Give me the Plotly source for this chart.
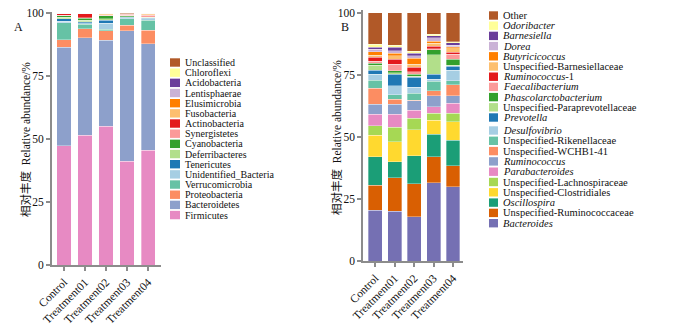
import plotly.graph_objects as go

W, H = 700, 334
groups = ["Control", "Treatment01", "Treatment02", "Treatment03", "Treatment04"]
yticks = [0, 25, 50, 75, 100]

# ---------------- Panel A (phylum), bottom -> top ----------------
phyla = ["Firmicutes", "Bacteroidetes", "Proteobacteria", "Verrucomicrobia",
         "Unidentified_Bacteria", "Tenericutes", "Deferribacteres", "Cyanobacteria",
         "Synergistetes", "Actinobacteria", "Fusobacteria", "Elusimicrobia",
         "Lentisphaerae", "Acidobacteria", "Chloroflexi", "Unclassified"]
phyla_colors = ["#e78ac3", "#8da0cb", "#fc8d62", "#66c2a5", "#a6cee3", "#1f78b4",
                "#b2df8a", "#33a02c", "#fb9a99", "#e31a1c", "#fdbf6f", "#ff7f00",
                "#cab2d6", "#6a3d9a", "#ffff99", "#b15928"]
firmicutes      = [47.3, 51.5, 55.2, 41.3, 45.6]
bacteroidetes   = [39.3, 38.7, 34.0, 51.7, 42.4]
proteobacteria  = [2.9, 3.6, 3.9, 2.2, 5.3]
verrucomicrobia = [6.7, 1.9, 0.5, 2.6, 3.9]
unidentified    = [0.7, 0.6, 2.4, 0.4, 0.7]
tenericutes     = [0.9, 0.3, 1.3, 0.2, 0.2]
deferribacteres = [0.7, 0.6, 0.6, 0.3, 0.3]
cyanobacteria   = [0.5, 0.9, 1.2, 0.3, 0.1]
synergistetes   = [0.2, 0.2, 0.2, 0.3, 0.8]
actinobacteria  = [0.6, 1.5, 0.2, 0.3, 0.1]
fusobacteria    = [0.05, 0.05, 0.3, 0.1, 0.5]
elusimicrobia   = [0.05, 0.05, 0.1, 0.05, 0.02]
lentisphaerae   = [0.03, 0.03, 0.03, 0.03, 0.02]
acidobacteria   = [0.02, 0.02, 0.02, 0.02, 0.02]
chloroflexi     = [0.02, 0.02, 0.02, 0.02, 0.02]
unclassified_a  = [0.03, 0.03, 0.03, 0.18, 0.02]
phyla_values = [firmicutes, bacteroidetes, proteobacteria, verrucomicrobia,
                unidentified, tenericutes, deferribacteres, cyanobacteria,
                synergistetes, actinobacteria, fusobacteria, elusimicrobia,
                lentisphaerae, acidobacteria, chloroflexi, unclassified_a]

# ---------------- Panel B (genus), bottom -> top ----------------
genera = ["<i>Bacteroides</i>", "Unspecified-Ruminococcaceae", "<i>Oscillospira</i>",
          "Unspecified-Clostridiales", "Unspecified-Lachnospiraceae", "<i>Parabacteroides</i>",
          "<i>Ruminococcus</i>", "Unspecified-WCHB1-41", "Unspecified-Rikenellaceae",
          "<i>Desulfovibrio</i>", "<i>Prevotella</i>", "Unspecified-Paraprevotellaceae",
          "<i>Phascolarctobacterium</i>", "<i>Faecalibacterium</i>", "<i>Ruminococcus</i>-1",
          "Unspecified-Barnesiellaceae", "<i>Butyricicoccus</i>", "<i>Dorea</i>",
          "<i>Barnesiella</i>", "<i>Odoribacter</i>", "Other"]
genera_colors = ["#7570b3", "#d95f02", "#1b9e77", "#ffd92f", "#a6d854", "#e78ac3",
                 "#8da0cb", "#fc8d62", "#66c2a5", "#a6cee3", "#1f78b4", "#b2df8a",
                 "#33a02c", "#fb9a99", "#e31a1c", "#fdbf6f", "#ff7f00", "#cab2d6",
                 "#6a3d9a", "#ffff99", "#b15928"]
bacteroides      = [20.5, 20.1, 17.8, 31.5, 29.9]
u_ruminococcaceae= [10.1, 13.4, 13.3, 10.5, 8.4]
oscillospira     = [11.4, 6.5, 11.3, 9.0, 10.4]
u_clostridiales  = [8.7, 8.0, 10.4, 5.7, 7.4]
u_lachnospiraceae= [3.7, 5.8, 4.7, 2.8, 3.4]
parabacteroides  = [4.8, 5.4, 3.3, 2.6, 4.0]
ruminococcus     = [3.9, 4.0, 3.8, 4.4, 3.0]
u_wchb1_41       = [6.5, 1.9, 0.2, 2.1, 4.4]
u_rikenellaceae  = [3.3, 1.8, 2.8, 3.9, 1.7]
desulfovibrio    = [2.4, 3.6, 2.4, 0.8, 4.3]
prevotella       = [1.6, 4.8, 4.0, 2.0, 1.6]
u_paraprevotella = [2.0, 0.5, 0.5, 7.7, 0.3]
phascolarcto     = [0.7, 0.8, 0.8, 2.0, 2.4]
faecalibacterium = [0.9, 2.6, 0.9, 0.4, 2.0]
ruminococcus_1   = [1.5, 2.0, 1.8, 1.2, 0.8]
u_barnesiellaceae= [0.9, 1.4, 1.3, 1.1, 1.9]
butyricicoccus   = [1.4, 1.0, 2.3, 0.9, 0.5]
dorea            = [0.9, 1.1, 1.1, 1.3, 0.6]
barnesiella      = [0.9, 1.4, 0.9, 0.8, 0.9]
odoribacter      = [1.2, 0.8, 0.9, 0.6, 0.5]
other            = [12.7, 13.1, 15.5, 8.7, 11.6]
genera_values = [bacteroides, u_ruminococcaceae, oscillospira, u_clostridiales,
                 u_lachnospiraceae, parabacteroides, ruminococcus, u_wchb1_41,
                 u_rikenellaceae, desulfovibrio, prevotella, u_paraprevotella,
                 phascolarcto, faecalibacterium, ruminococcus_1, u_barnesiellaceae,
                 butyricicoccus, dorea, barnesiella, odoribacter, other]

SERIF = "Liberation Serif, Times New Roman, Noto Sans CJK SC, serif"
AX = "#8c8c8c"

def px(x):
    return x / W

def py(y):
    return 1 - y / H

fig = go.Figure()
for name, col, vals in zip(phyla, phyla_colors, phyla_values):
    fig.add_trace(go.Bar(x=groups, y=vals, name=name, marker_color=col, width=0.667,
                         marker_line=dict(color="rgba(255,255,255,0.55)", width=0.6),
                         xaxis="x", yaxis="y", showlegend=False))
for name, col, vals in zip(genera, genera_colors, genera_values):
    fig.add_trace(go.Bar(x=groups, y=vals, name=name, marker_color=col, width=0.72,
                         marker_line=dict(color="rgba(255,255,255,0.55)", width=0.6),
                         xaxis="x2", yaxis="y2", showlegend=False))

axis_common = dict(showline=True, linecolor=AX, linewidth=2, ticks="outside",
                   ticklen=4, tickcolor=AX, tickwidth=1.5, showgrid=False, zeroline=False,
                   tickfont=dict(family=SERIF, size=11.5, color="#111"), automargin=False)

fig.update_layout(
    width=W, height=H, margin=dict(l=0, r=0, t=0, b=0),
    paper_bgcolor="white", plot_bgcolor="white", barmode="stack",
    xaxis=dict(domain=[px(52), px(161)], range=[-0.571, 4.619], anchor="y",
               tickangle=-45, **axis_common),
    yaxis=dict(domain=[py(265), py(11.7)], range=[0, 100.64], anchor="x",
               tickvals=yticks, **axis_common),
    xaxis2=dict(domain=[px(363.3), px(463.3)], range=[-0.618, 4.53], anchor="y2",
                tickangle=-45, **axis_common),
    yaxis2=dict(domain=[py(261), py(10)], range=[0, 101.1], anchor="x2",
                tickvals=yticks, **axis_common),
)

shapes = []
annotations = []
# Legend A (top item = last trace)
for i, (name, col) in enumerate(zip(phyla[::-1], phyla_colors[::-1])):
    yc = 62.5 + i * 10.17
    shapes.append(dict(type="rect", xref="paper", yref="paper",
                       x0=px(170), x1=px(180), y0=py(yc + 4.2), y1=py(yc - 4.2),
                       fillcolor=col, line=dict(width=0)))
    annotations.append(dict(x=px(184), y=py(yc), xref="paper", yref="paper", text=name,
                            showarrow=False, xanchor="left", yanchor="middle", borderpad=0,
                            font=dict(family=SERIF, size=10, color="#111")))
# Legend B
for i, (name, col) in enumerate(zip(genera[::-1], genera_colors[::-1])):
    yc = 15.5 + i * 10.2 if i <= 10 else 130.5 + (i - 11) * 10.3
    shapes.append(dict(type="rect", xref="paper", yref="paper",
                       x0=px(489), x1=px(498), y0=py(yc + 4.2), y1=py(yc - 4.2),
                       fillcolor=col, line=dict(width=0)))
    annotations.append(dict(x=px(502), y=py(yc), xref="paper", yref="paper", text=name,
                            showarrow=False, xanchor="left", yanchor="middle", borderpad=0,
                            font=dict(family=SERIF, size=10.5, color="#111")))

# Panel letters and y titles
annotations.append(dict(x=px(12), y=py(18), xref="paper", yref="paper", text="A",
                        showarrow=False, font=dict(family=SERIF, size=12, color="#111")))
annotations.append(dict(x=px(345), y=py(18), xref="paper", yref="paper", text="B",
                        showarrow=False, font=dict(family=SERIF, size=12, color="#111")))
ytitle = "相对丰度  Relative abundance/%"
annotations.append(dict(x=px(25), y=py(140), xref="paper", yref="paper", text=ytitle,
                        textangle=-90, showarrow=False, xanchor="center", yanchor="middle",
                        font=dict(family=SERIF, size=11.5, color="#111")))
annotations.append(dict(x=px(336), y=py(138), xref="paper", yref="paper", text=ytitle,
                        textangle=-90, showarrow=False, xanchor="center", yanchor="middle",
                        font=dict(family=SERIF, size=11.5, color="#111")))

fig.update_layout(shapes=shapes, annotations=annotations)
fig.write_html("out.html")
